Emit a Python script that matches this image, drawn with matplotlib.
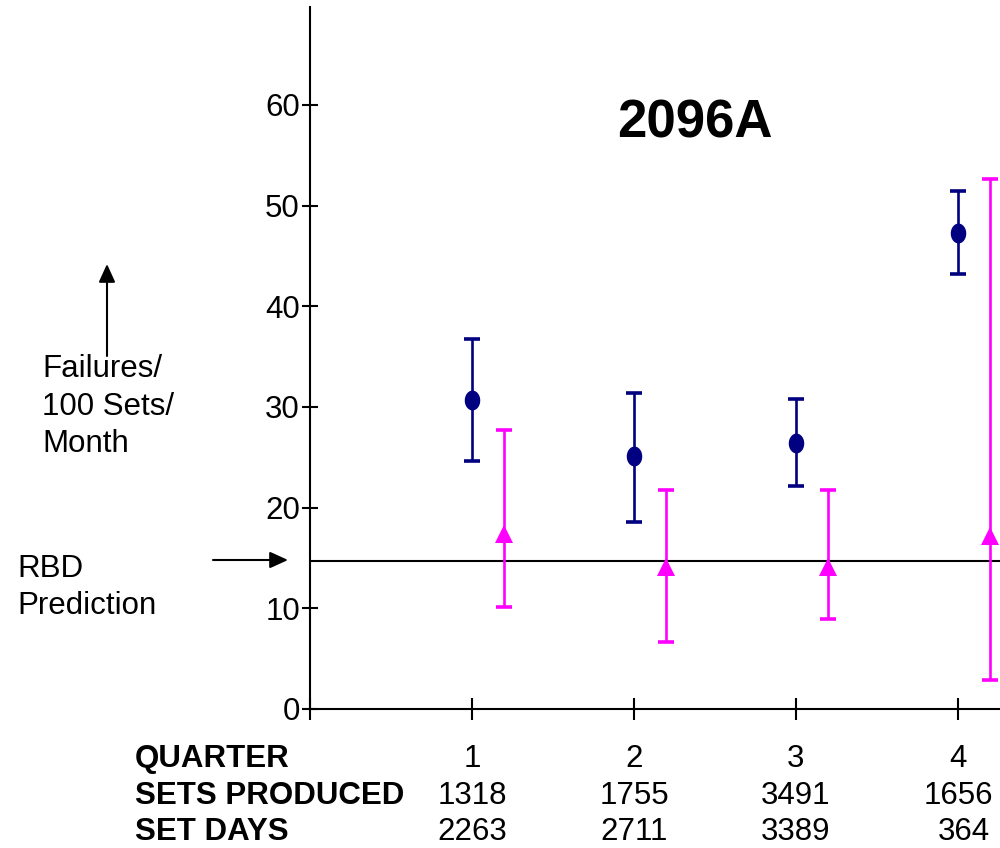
import matplotlib
matplotlib.use('Agg')
import matplotlib.pyplot as plt
import numpy as np
from matplotlib.path import Path
from matplotlib.patches import FancyArrowPatch
from matplotlib.transforms import blended_transform_factory, ScaledTranslation

# ---- data ----
quarters = [1, 2, 3, 4]
observed = [30.7, 25.1, 26.4, 47.3]
observed_low = [24.6, 18.6, 22.15, 43.2]
observed_high = [36.8, 31.4, 30.8, 51.5]
adjusted = [17.4, 14.1, 14.1, 17.2]
adjusted_low = [10.1, 6.7, 8.9, 2.9]
adjusted_high = [27.7, 21.75, 21.75, 52.6]
rbd_prediction = 14.7
quarter_labels = ['1', '2', '3', '4']
sets_produced = ['1318', '1755', '3491', '1656']
set_days = ['2263', '2711', '3389', '364']
row_labels = ['QUARTER', 'SETS PRODUCED', 'SET DAYS']
yticks = [0, 10, 20, 30, 40, 50, 60]
title = '2096A'

plt.rcParams['font.family'] = ['Liberation Sans', 'DejaVu Sans']

FS = 22.5
W, H = 1000, 848
fig = plt.figure(figsize=(W / 100, H / 100), dpi=100)
ax = fig.add_axes([310 / W, 1 - 709 / H, 690 / W, (709 - 7) / H])
ax.set_xlim(0, 4.26)
ax.set_ylim(0, 69.73)

navy = '#000080'
magenta = '#FF00FF'

obs = np.array(observed)
adj = np.array(adjusted)
xq = np.array(quarters, dtype=float)
offset = 0.2

ax.axhline(rbd_prediction, color='black', lw=1.5, zorder=2)

ax.errorbar(xq, obs, yerr=[obs - np.array(observed_low), np.array(observed_high) - obs],
            fmt='none', ecolor=navy, elinewidth=1.9, capsize=5.8, capthick=2.6, zorder=3)
ax.errorbar(xq + offset, adj, yerr=[adj - np.array(adjusted_low), np.array(adjusted_high) - adj],
            fmt='none', ecolor=magenta, elinewidth=1.9, capsize=5.5, capthick=2.6, zorder=3)

theta = np.linspace(0, 2 * np.pi, 73)
ell = Path(np.column_stack([0.78 * np.cos(theta), np.sin(theta)]), closed=True)
ax.plot(xq, obs, linestyle='none', marker=ell, markersize=14.3, color=navy,
        markeredgewidth=0, zorder=4)
ax.plot(xq + offset, adj, linestyle='none', marker='^', markersize=13.2, color=magenta,
        markeredgewidth=0, zorder=4)

for s in ['top', 'right']:
    ax.spines[s].set_visible(False)
for s in ['left', 'bottom']:
    ax.spines[s].set_linewidth(1.5)

ax.set_yticks(yticks)
ax.set_yticklabels([str(v) for v in yticks], fontsize=FS)
ax.set_xticks([0] + quarters)
ax.set_xticklabels([])
ax.tick_params(axis='y', direction='inout', length=11.5, width=1.5, pad=1.5)
ax.tick_params(axis='x', direction='inout', length=16, width=1.5)

# title
fig.text(695 / W, 1 - 137 / H, title, fontsize=38, fontweight='bold',
         ha='center', va='baseline')

# left annotations
for txt, yb in zip(['Failures/', '100 Sets/', 'Month'], [377, 415, 452]):
    fig.text(42 / W, 1 - yb / H, txt, fontsize=FS, ha='left', va='baseline')
for txt, yb in zip(['RBD', 'Prediction'], [577, 614]):
    fig.text(17 / W, 1 - yb / H, txt, fontsize=FS, ha='left', va='baseline')

def fig_arrow(x0, y0, x1, y1):
    a = FancyArrowPatch((x0 / W, 1 - y0 / H), (x1 / W, 1 - y1 / H),
                        transform=fig.transFigure,
                        arrowstyle='-|>,head_length=0.55,head_width=0.25',
                        mutation_scale=20, color='black', lw=1.5,
                        shrinkA=0, shrinkB=0)
    fig.add_artist(a)

fig_arrow(107, 356, 107, 264)
fig_arrow(213, 560, 288, 560)

# bottom table
trans = blended_transform_factory(ax.transData, fig.transFigure)
baselines = [767, 804, 840]
for lab, yb in zip(row_labels, baselines):
    fig.text(135 / W, 1 - yb / H, lab, fontsize=FS, fontweight='bold',
             ha='left', va='baseline')
for row, yb in zip([quarter_labels, sets_produced, set_days], baselines):
    for q, val in zip(quarters, row):
        t = trans
        if len(val) == 3:
            t = trans + ScaledTranslation(6 / 100, 0, fig.dpi_scale_trans)
        ax.text(q, 1 - yb / H, val, transform=t, fontsize=FS,
                ha='center', va='baseline', clip_on=False)

fig.savefig('out.png', dpi=100)
